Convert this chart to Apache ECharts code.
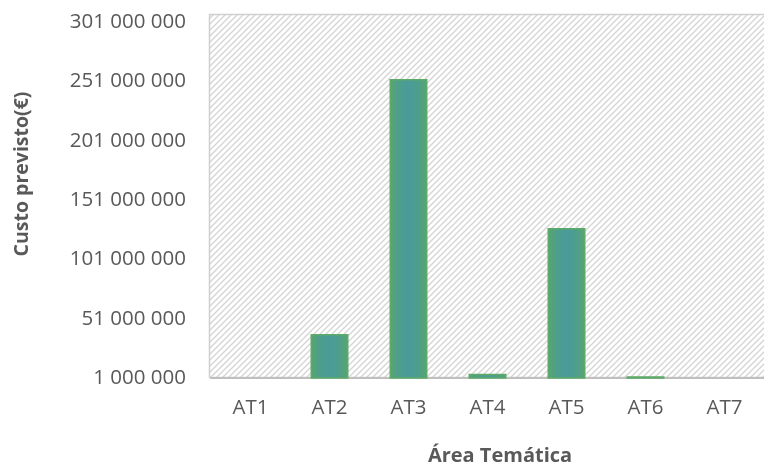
<!DOCTYPE html>
<html>
<head>
<meta charset="utf-8">
<script src="https://cdn.jsdelivr.net/npm/echarts@6/dist/echarts.min.js"></script>
<style>
  html, body { margin: 0; padding: 0; background: #ffffff; }
  #chart { width: 764px; height: 472px; }
</style>
</head>
<body>
<div id="chart"></div>
<script>
// Custo previsto por área temática (€)
const categories = ['AT1', 'AT2', 'AT3', 'AT4', 'AT5', 'AT6', 'AT7'];
const custoPrevisto = [400000, 38000000, 253000000, 4500000, 127400000, 2500000, 300000];
const yTicks = { min: 1000000, max: 301000000, interval: 50000000 };

// Diagonal hatch tile for the plot background
function hatchTile(size) {
  const c = document.createElement('canvas');
  c.width = size; c.height = size;
  const ctx = c.getContext('2d');
  ctx.fillStyle = '#ffffff';
  ctx.fillRect(0, 0, size, size);
  ctx.strokeStyle = '#d4d4d4';
  ctx.lineWidth = 1.3;
  for (let k = -1; k <= 1; k++) {
    ctx.beginPath();
    ctx.moveTo(-1 + k * size, size + 1);
    ctx.lineTo(size + 1 + k * size, -1);
    ctx.stroke();
  }
  return c;
}

function formatSpaced(v) {
  return String(Math.round(v)).replace(/\B(?=(\d{3})+(?!\d))/g, ' ');
}

const chart = echarts.init(document.getElementById('chart'), null, { renderer: 'canvas' });
const textColor = '#595959';
const fontFamily = '"Open Sans", "Noto Sans", sans-serif';

chart.setOption({
  animation: false,
  backgroundColor: '#ffffff',
  grid: { left: 211, right: -7, top: 22, bottom: 94 },
  graphic: [
    {
      type: 'rect',
      z: -10,
      shape: { x: 209.5, y: 14.5, width: 570, height: 363 },
      style: {
        fill: { image: hatchTile(6), repeat: 'repeat' },
        stroke: '#d0d0d0',
        lineWidth: 1.5
      },
      silent: true
    },
    {
      type: 'text',
      x: 22, y: 174,
      rotation: Math.PI / 2,
      style: {
        text: 'Custo previsto(€)',
        fill: textColor,
        font: 'bold 19.5px ' + fontFamily,
        align: 'center',
        verticalAlign: 'middle'
      }
    },
    {
      type: 'text',
      x: 500, y: 456,
      style: {
        text: 'Área Temática',
        fill: textColor,
        font: 'bold 20px ' + fontFamily,
        align: 'center',
        verticalAlign: 'middle'
      }
    }
  ],
  xAxis: {
    type: 'category',
    data: categories,
    axisLine: { show: true, lineStyle: { color: '#bfbfbf', width: 2 } },
    axisTick: { show: false },
    axisLabel: { color: textColor, fontSize: 20.5, fontFamily: fontFamily, margin: 20 },
    splitLine: { show: false }
  },
  yAxis: {
    type: 'value',
    min: yTicks.min,
    max: yTicks.max,
    interval: yTicks.interval,
    axisLine: { show: false },
    axisTick: { show: false },
    splitLine: { show: false },
    axisLabel: {
      color: textColor,
      fontSize: 20.5,
      fontFamily: fontFamily,
      margin: 25,
      formatter: formatSpaced
    }
  },
  series: [{
    type: 'bar',
    data: custoPrevisto,
    barWidth: 38,
    clip: true,
    itemStyle: {
      color: {
        type: 'linear', x: 0, y: 0, x2: 1, y2: 0,
        colorStops: [
          { offset: 0, color: '#58a66e' },
          { offset: 0.25, color: '#4d9e8c' },
          { offset: 0.5, color: '#4a9b99' },
          { offset: 0.75, color: '#4d9e8c' },
          { offset: 1, color: '#58a66e' }
        ]
      },
      borderColor: '#5eaa68',
      borderWidth: 1.5
    }
  }]
});
</script>
</body>
</html>
